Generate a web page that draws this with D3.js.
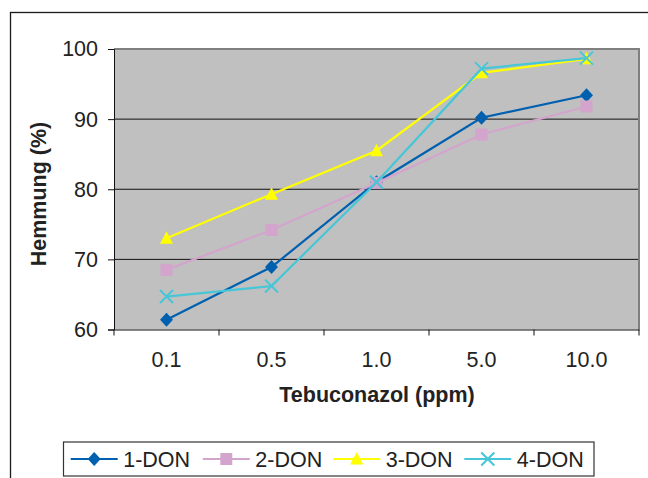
<!DOCTYPE html>
<html>
<head>
<meta charset="utf-8">
<script src="https://cdn.jsdelivr.net/npm/d3@7"></script>
<style>
  body { margin: 0; background: #fff; }
  svg { display: block; font-family: "Liberation Sans", Arial, sans-serif; }
</style>
</head>
<body>
<svg id="chart" width="648" height="478"></svg>
<script>
// data
const doses = ["0.1", "0.5", "1.0", "5.0", "10.0"];
const don1 = [61.4, 68.9, 81.0, 90.2, 93.4];
const don2 = [68.5, 74.2, 80.9, 87.8, 91.8];
const don3 = [73.0, 79.3, 85.5, 96.6, 98.6];
const don4 = [64.7, 66.2, 81.0, 97.2, 98.7];
const seriesNames = ["1-DON", "2-DON", "3-DON", "4-DON"];
const yTicks = [60, 70, 80, 90, 100];

const colors = ["#0060B0", "#D3A4CC", "#FFFF00", "#46C6D6"];
const shapes = ["diamond", "square", "triangle", "cross"];
const allSeries = [don1, don2, don3, don4].map((vals, i) => ({
    name: seriesNames[i], values: vals, color: colors[i], shape: shapes[i]
}));

const fontSize = 21.5;
const svg = d3.select("#chart");

// outer frame (runs off the right and bottom edges)
svg.append("rect")
    .attr("x", 10.5).attr("y", 12.5)
    .attr("width", 700).attr("height", 600)
    .attr("fill", "none").attr("stroke", "#1a1a1a").attr("stroke-width", 1.3);

const pLeft = 114, pRight = 639, pTop = 49, pBottom = 329.5;

const x = d3.scaleBand().domain(doses).range([pLeft, pRight]).padding(0);
const y = d3.scaleLinear().domain([60, 100]).range([pBottom, pTop]);

// plot area
svg.append("rect")
    .attr("x", pLeft).attr("y", pTop)
    .attr("width", pRight - pLeft).attr("height", pBottom - pTop)
    .attr("fill", "#C0C0C0");

// gridlines
svg.append("g")
    .selectAll("line")
    .data(yTicks.filter(v => v > 60 && v < 100))
    .join("line")
    .attr("x1", pLeft).attr("x2", pRight)
    .attr("y1", d => y(d)).attr("y2", d => y(d))
    .attr("stroke", "#111").attr("stroke-width", 1);

// top and right border in grey
svg.append("path")
    .attr("d", `M${pLeft},${pTop}H${pRight}V${pBottom}`)
    .attr("fill", "none").attr("stroke", "#808080").attr("stroke-width", 2);

// y axis
const yAxis = svg.append("g")
    .attr("transform", `translate(${pLeft},0)`)
    .call(d3.axisLeft(y).tickValues(yTicks).tickSize(6).tickPadding(10).tickFormat(d3.format("d")));
yAxis.select(".domain").attr("stroke", "#111");
yAxis.selectAll(".tick line").attr("stroke", "#111");
yAxis.selectAll("text").attr("font-size", fontSize).attr("fill", "#222")
    .attr("font-family", "Liberation Sans, Arial, sans-serif");

// x axis: ticks at category boundaries
const xAxis = svg.append("g")
    .attr("transform", `translate(0,${pBottom})`)
    .call(d3.axisBottom(x).tickSize(0).tickPadding(22));
xAxis.select(".domain").attr("stroke", "#111");
xAxis.selectAll("text").attr("font-size", fontSize).attr("fill", "#222")
    .attr("font-family", "Liberation Sans, Arial, sans-serif");
const bounds = doses.map(d => x(d)).concat([x(doses[doses.length - 1]) + x.bandwidth()]);
xAxis.selectAll(".bound")
    .data(bounds)
    .join("line")
    .attr("class", "bound")
    .attr("x1", d => d).attr("x2", d => d)
    .attr("y1", 0).attr("y2", 6)
    .attr("stroke", "#111");

// axis titles
svg.append("text")
    .attr("x", 377).attr("y", 402)
    .attr("text-anchor", "middle")
    .attr("font-size", fontSize).attr("font-weight", "bold").attr("fill", "#222")
    .text("Tebuconazol (ppm)");

svg.append("text")
    .attr("transform", "translate(45.5,194) rotate(-90)")
    .attr("text-anchor", "middle")
    .attr("font-size", fontSize).attr("font-weight", "bold").attr("fill", "#222")
    .text("Hemmung (%)");

function marker(shape) {
    switch (shape) {
        case "diamond": return "M0,-7L6.5,0L0,7L-6.5,0Z";
        case "square": return "M-6,-6H6V6H-6Z";
        case "triangle": return "M0,-7L6.5,5.5H-6.5Z";
        case "cross": return "M-6.5,-6.5L6.5,6.5M-6.5,6.5L6.5,-6.5";
    }
}

function drawMarker(sel, s) {
    if (s.shape === "cross") {
        sel.attr("d", marker(s.shape)).attr("fill", "none")
            .attr("stroke", s.color).attr("stroke-width", 2);
    } else {
        sel.attr("d", marker(s.shape)).attr("fill", s.color).attr("stroke", "none");
    }
}

const line = d3.line()
    .x((d, i) => x(doses[i]) + x.bandwidth() / 2)
    .y(d => y(d));

allSeries.forEach(s => {
    const g = svg.append("g");
    g.append("path")
        .attr("d", line(s.values))
        .attr("fill", "none")
        .attr("stroke", s.color)
        .attr("stroke-width", 2.2);
    g.selectAll("path.m")
        .data(s.values)
        .join("path")
        .attr("class", "m")
        .attr("transform", (d, i) => `translate(${x(doses[i]) + x.bandwidth() / 2},${y(d)})`)
        .call(sel => drawMarker(sel, s));
});

// legend
const legX = 63.5, legY = 442, legW = 530.5, legH = 34;
svg.append("rect")
    .attr("x", legX).attr("y", legY).attr("width", legW).attr("height", legH)
    .attr("fill", "#fff").attr("stroke", "#333").attr("stroke-width", 1.2);

const itemStart = [70.7, 202.8, 333.2, 464.3];
const legend = svg.append("g")
    .selectAll("g")
    .data(allSeries)
    .join("g")
    .attr("transform", (d, i) => `translate(${itemStart[i]},${legY + legH / 2})`);
legend.append("line")
    .attr("x1", 0).attr("x2", 47).attr("y1", 0).attr("y2", 0)
    .attr("stroke", d => d.color).attr("stroke-width", 2.2);
legend.append("path")
    .attr("transform", "translate(23.5,0)")
    .each(function (d) { drawMarker(d3.select(this), d); });
legend.append("text")
    .attr("x", 52.5).attr("dy", "0.36em")
    .attr("font-size", fontSize).attr("fill", "#222")
    .text(d => d.name);
</script>
</body>
</html>
